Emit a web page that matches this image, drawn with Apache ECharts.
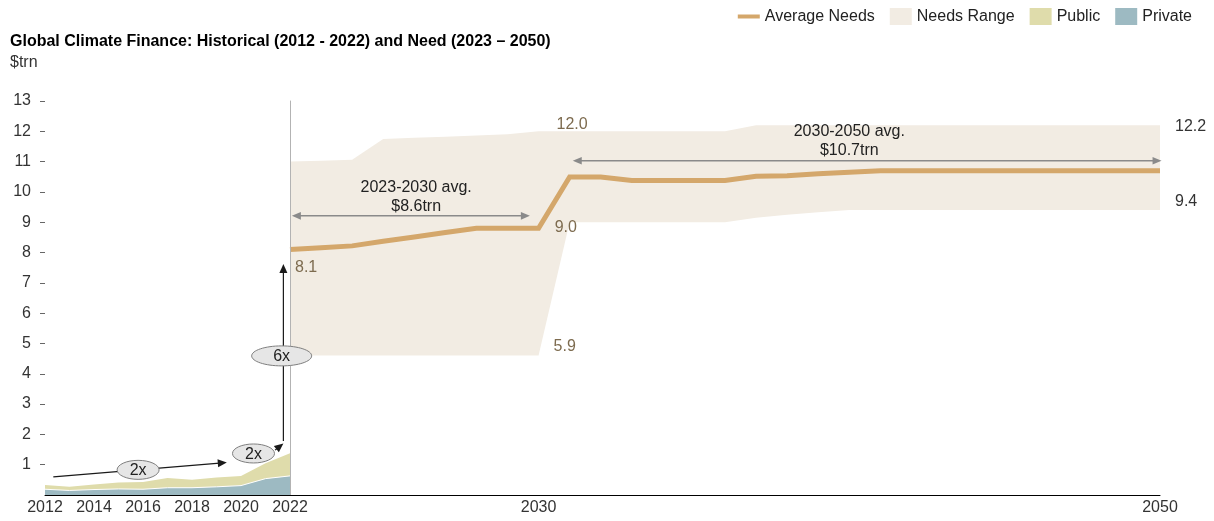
<!DOCTYPE html>
<html>
<head>
<meta charset="utf-8">
<script src="https://cdn.jsdelivr.net/npm/echarts@6/dist/echarts.min.js"></script>
<style>
  html, body { margin: 0; padding: 0; background: #fff; }
  #chart { width: 1214px; height: 521px; }
</style>
</head>
<body>
<div id="chart"></div>
<script>
// Historical climate finance, $trn
const histYears = [2012, 2013, 2014, 2015, 2016, 2017, 2018, 2019, 2020, 2021, 2022];
const privateFinance = [0.19, 0.15, 0.18, 0.20, 0.19, 0.24, 0.24, 0.27, 0.31, 0.54, 0.63];
const publicFinance  = [0.14, 0.12, 0.17, 0.21, 0.24, 0.32, 0.26, 0.31, 0.32, 0.51, 0.75];

// Estimated needs 2022-2050, $trn
const needYears = [2022, 2023, 2024, 2025, 2026, 2027, 2028, 2029, 2030,
                   2031, 2032, 2033, 2034, 2035, 2036, 2037, 2038, 2039, 2040,
                   2041, 2042, 2043, 2044, 2045, 2046, 2047, 2048, 2049, 2050];
const averageNeeds = [8.1, 8.16, 8.22, 8.37, 8.51, 8.66, 8.8, 8.8, 8.8,
                      10.49, 10.49, 10.38, 10.38, 10.38, 10.38, 10.52, 10.53, 10.6, 10.65,
                      10.7, 10.7, 10.7, 10.7, 10.7, 10.7, 10.7, 10.7, 10.7, 10.7];
const needsLow = [4.6, 4.6, 4.6, 4.6, 4.6, 4.6, 4.6, 4.6, 4.6,
                  9.0, 9.0, 9.0, 9.0, 9.0, 9.0, 9.15, 9.25, 9.33, 9.4,
                  9.4, 9.4, 9.4, 9.4, 9.4, 9.4, 9.4, 9.4, 9.4, 9.4];
const needsHigh = [11.0, 11.03, 11.06, 11.75, 11.79, 11.82, 11.86, 11.9, 12.0,
                   12.0, 12.0, 12.0, 12.0, 12.0, 12.0, 12.2, 12.2, 12.2, 12.2,
                   12.2, 12.2, 12.2, 12.2, 12.2, 12.2, 12.2, 12.2, 12.2, 12.2];

// Axis tick labels
const histTickYears = [2012, 2014, 2016, 2018, 2020, 2022];
const needTickYears = [2030, 2050];

// Period averages and growth multiples
const periodAverages = [
  { label: '2023-2030 avg.', value: '$8.6trn' },
  { label: '2030-2050 avg.', value: '$10.7trn' }
];
const growthMultiples = ['2x', '2x', '6x'];
const lowerNeed2030Label = '5.9';

const FONT = '"Liberation Sans", Arial, Helvetica, sans-serif';
const C = {
  privateFill: '#9dbac2',
  publicFill: '#dfdcab',
  rangeFill: '#f2ece3',
  avgLine: '#d4a76b',
  needLabel: '#7d6b4f',
  text: '#222',
  axisText: '#333',
  grayArrow: '#8a8a8a'
};

const pairs = (xs, ys) => xs.map((x, i) => [x, ys[i]]);
const histTotal = privateFinance.map((v, i) => +(v + publicFinance[i]).toFixed(2));

const chart = echarts.init(document.getElementById('chart'), null, { renderer: 'canvas' });

chart.setOption({
  animation: false,
  backgroundColor: '#fff',
  textStyle: { fontFamily: FONT },
  title: {
    text: 'Global Climate Finance: Historical (2012 - 2022) and Need (2023 \u2013 2050)',
    subtext: '$trn',
    left: 10,
    top: 34,
    padding: 0,
    itemGap: 5,
    textStyle: { fontFamily: FONT, fontSize: 16, fontWeight: 'bold', color: '#000' },
    subtextStyle: { fontFamily: FONT, fontSize: 16, color: '#333' }
  },
  legend: {
    right: 17,
    top: 3,
    itemWidth: 22,
    itemHeight: 17,
    itemGap: 15,
    selectedMode: false,
    textStyle: { fontFamily: FONT, fontSize: 16, color: C.text },
    data: [
      { name: 'Average Needs', icon: 'path://M0,0H22V4H0Z' },
      { name: 'Needs Range', icon: 'rect' },
      { name: 'Public', icon: 'rect' },
      { name: 'Private', icon: 'rect' }
    ]
  },
  grid: [
    { left: 45, top: 101, width: 245, height: 394 },
    { left: 290, top: 101, width: 870, height: 394 }
  ],
  xAxis: [
    {
      gridIndex: 0, type: 'value', min: 2012, max: 2022, z: 10,
      axisLine: { lineStyle: { color: '#000', width: 1 } },
      axisTick: { show: false },
      splitLine: { show: false },
      axisLabel: {
        customValues: histTickYears,
        formatter: v => String(v),
        fontSize: 16, color: C.axisText, margin: 5, fontFamily: FONT
      }
    },
    {
      gridIndex: 1, type: 'value', min: 2022, max: 2050, z: 10,
      axisLine: { lineStyle: { color: '#000', width: 1 } },
      axisTick: { show: false },
      splitLine: { show: false },
      axisLabel: {
        customValues: needTickYears,
        formatter: v => String(v),
        fontSize: 16, color: C.axisText, margin: 5, fontFamily: FONT
      }
    }
  ],
  yAxis: [
    {
      gridIndex: 0, type: 'value', min: 0, max: 13, interval: 1,
      axisLine: { show: false },
      axisTick: { show: true, length: 5, lineStyle: { color: '#666' } },
      splitLine: { show: false },
      axisLabel: {
        showMinLabel: false,
        fontSize: 16, color: C.axisText, margin: 14, fontFamily: FONT
      }
    },
    {
      gridIndex: 1, type: 'value', min: 0, max: 13, interval: 1, z: 10,
      axisLine: { show: true, lineStyle: { color: '#b3b3b3', width: 1 } },
      axisTick: { show: false },
      axisLabel: { show: false },
      splitLine: { show: false }
    }
  ],
  series: [
    {
      name: 'Public', type: 'line', xAxisIndex: 0, yAxisIndex: 0,
      data: pairs(histYears, histTotal),
      symbol: 'none', z: 2,
      itemStyle: { color: C.publicFill },
      lineStyle: { width: 0, color: C.publicFill },
      areaStyle: { color: C.publicFill, opacity: 1 }
    },
    {
      name: 'Private', type: 'line', xAxisIndex: 0, yAxisIndex: 0,
      data: pairs(histYears, privateFinance),
      symbol: 'none', z: 3,
      itemStyle: { color: C.privateFill },
      lineStyle: { width: 1, color: '#ffffff' },
      areaStyle: { color: C.privateFill, opacity: 1 }
    },
    {
      name: 'Needs Range', type: 'line', xAxisIndex: 1, yAxisIndex: 1,
      data: pairs(needYears, needsHigh),
      symbol: 'none', z: 2,
      itemStyle: { color: C.rangeFill },
      lineStyle: { width: 0, color: C.rangeFill },
      areaStyle: { color: C.rangeFill, opacity: 1 }
    },
    {
      // lower edge of the needs range: clears the band beneath it
      name: 'Needs Low', type: 'line', xAxisIndex: 1, yAxisIndex: 1,
      data: pairs(needYears, needsLow),
      symbol: 'none', z: 3,
      itemStyle: { color: '#ffffff' },
      lineStyle: { width: 0, color: '#ffffff' },
      areaStyle: { color: '#ffffff', opacity: 1 }
    },
    {
      name: 'Average Needs', type: 'line', xAxisIndex: 1, yAxisIndex: 1,
      data: pairs(needYears, averageNeeds),
      symbol: 'none', z: 5,
      itemStyle: { color: C.avgLine },
      lineStyle: { width: 5, color: C.avgLine, join: 'miter' }
    }
  ]
});

// ---- annotations, placed in data space of each grid ----
function px(grid, x, y) {
  return chart.convertToPixel({ gridIndex: grid }, [x, y]);
}

function arrow(p0, p1, opts) {
  const els = [];
  const dx = p1[0] - p0[0], dy = p1[1] - p0[1];
  const len = Math.hypot(dx, dy);
  const ux = dx / len, uy = dy / len;
  const nx = -uy, ny = ux;
  const L = opts.headLen, H = opts.headHalf;
  let a = p0.slice(), b = p1.slice();
  const head = (tip, sx, sy) => ({
    type: 'polygon', z: 100, silent: true,
    shape: { points: [tip,
      [tip[0] - sx * L + nx * H, tip[1] - sy * L + ny * H],
      [tip[0] - sx * L - nx * H, tip[1] - sy * L - ny * H]] },
    style: { fill: opts.color }
  });
  if (opts.end) { els.push(head(p1, ux, uy)); b = [p1[0] - ux * L * 0.8, p1[1] - uy * L * 0.8]; }
  if (opts.start) { els.push(head(p0, -ux, -uy)); a = [p0[0] + ux * L * 0.8, p0[1] + uy * L * 0.8]; }
  els.unshift({
    type: 'line', z: 99, silent: true,
    shape: { x1: a[0], y1: a[1], x2: b[0], y2: b[1] },
    style: { stroke: opts.color, lineWidth: opts.width }
  });
  return els;
}

function oval(c, rx, ry, text) {
  return [
    {
      type: 'ellipse', z: 101, silent: true,
      shape: { cx: c[0], cy: c[1], rx: rx, ry: ry },
      style: { fill: '#e6e6e6', stroke: '#7f7f7f', lineWidth: 1 }
    },
    {
      type: 'text', z: 102, silent: true,
      x: c[0], y: c[1] + 1,
      style: { text: text, font: '16px ' + FONT, fill: C.text, align: 'center', verticalAlign: 'middle' }
    }
  ];
}

function label(p, dx, dy, text, color, align) {
  return {
    type: 'text', z: 102, silent: true,
    x: p[0] + dx, y: p[1] + dy,
    style: { text: text, font: '16px ' + FONT, fill: color, align: align || 'left', verticalAlign: 'middle' }
  };
}

function centeredBlock(p, lines) {
  return {
    type: 'text', z: 102, silent: true,
    x: p[0], y: p[1],
    style: { text: lines.join('\n'), font: '16px ' + FONT, lineHeight: 19, fill: C.text, align: 'center', verticalAlign: 'middle' }
  };
}

const g = [];
const black = { color: '#1a1a1a', width: 1.2, headLen: 9, headHalf: 4, end: true };
const gray = { color: C.grayArrow, width: 1.5, headLen: 9, headHalf: 3.8, start: true, end: true };

// growth arrows over the historical period
g.push(...arrow(px(0, 2012.34, 0.60), px(0, 2019.42, 1.07), black));
g.push(...arrow(px(0, 2021.39, 1.48), px(0, 2021.73, 1.70), black));
g.push(...arrow(px(0, 2021.73, 1.78), px(0, 2021.73, 7.62), black));
g.push(...oval(px(0, 2015.8, 0.83), 21, 9.5, growthMultiples[0]));
g.push(...oval(px(0, 2020.51, 1.37), 21, 9.5, growthMultiples[1]));
g.push(...oval(px(0, 2021.66, 4.59), 30, 10, growthMultiples[2]));

// period average spans
g.push(...arrow(px(1, 2022.06, 9.21), px(1, 2029.72, 9.21), gray));
g.push(...arrow(px(1, 2031.1, 11.03), px(1, 2050.05, 11.03), gray));
g.push(centeredBlock(px(1, 2026.06, 9.83), [periodAverages[0].label, periodAverages[0].value]));
g.push(centeredBlock(px(1, 2040.0, 11.67), [periodAverages[1].label, periodAverages[1].value]));

// value callouts
const last = needYears.length - 1;
const i2030 = needYears.indexOf(2030);
const i2031 = needYears.indexOf(2031);
g.push(label(px(1, needYears[0], averageNeeds[0]), 5, 18, averageNeeds[0].toFixed(1), C.needLabel));
g.push(label(px(1, 2030, needsHigh[i2030]), 18, -7, needsHigh[i2030].toFixed(1), C.needLabel));
g.push(label(px(1, 2031, needsLow[i2031]), -15, 5, needsLow[i2031].toFixed(1), C.needLabel));
g.push(label(px(1, 2030, needsLow[i2030]), 15, -9, lowerNeed2030Label, C.needLabel));
g.push(label(px(1, needYears[last], needsHigh[last]), 15, 1, needsHigh[last].toFixed(1), '#333'));
g.push(label(px(1, needYears[last], needsLow[last]), 15, -9, needsLow[last].toFixed(1), '#333'));

chart.setOption({ graphic: { elements: g } });
</script>
</body>
</html>
